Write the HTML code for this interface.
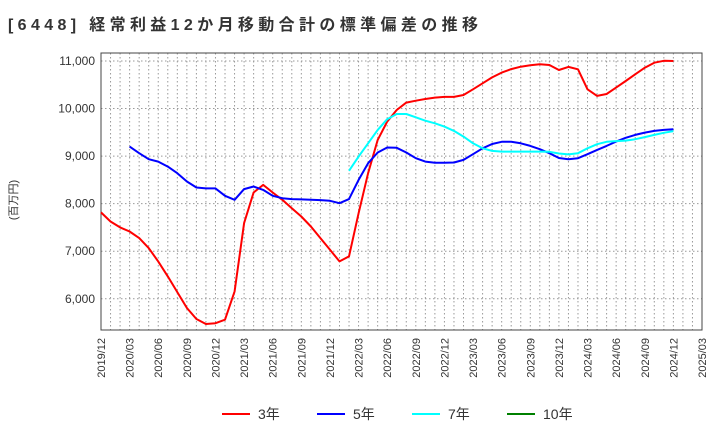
<!DOCTYPE html>
<html><head><meta charset="utf-8"><style>
body{margin:0;background:#fff;}
svg{display:block;font-family:"Liberation Sans","Noto Sans CJK JP",sans-serif;}
</style></head><body>
<svg id="chart" width="720" height="440">
<text x="8" y="30" font-size="16" font-weight="bold" fill="#333" textLength="470" lengthAdjust="spacing">[6448]  経常利益12か月移動合計の標準偏差の推移</text>
<text transform="translate(17,200) rotate(-90)" font-size="11" text-anchor="middle" fill="#333">(百万円)</text>
<g id="grid"></g><g id="axes"></g><g id="series"></g><g id="legend"></g>
</svg>
<script>
const yTicks=[6000,7000,8000,9000,10000,11000];
const startYear=2019, startMonth=12, nMonths=64;
const s3=[7815,7625,7500,7415,7275,7065,6785,6470,6140,5805,5575,5470,5485,5560,6155,7590,8235,8395,8235,8080,7905,7730,7520,7275,7030,6785,6890,7800,8640,9340,9725,9970,10125,10165,10200,10230,10245,10245,10285,10405,10530,10655,10755,10830,10880,10910,10930,10915,10810,10875,10825,10405,10265,10305,10440,10580,10720,10860,10965,11005,11000];
const s5=[null,null,null,9200,9060,8935,8885,8780,8640,8465,8340,8320,8320,8165,8080,8305,8360,8290,8165,8115,8095,8090,8080,8075,8060,8010,8095,8500,8850,9075,9180,9175,9075,8955,8885,8860,8860,8865,8920,9040,9165,9255,9300,9300,9270,9215,9145,9060,8960,8935,8955,9040,9130,9215,9305,9385,9445,9495,9530,9550,9565];
const s7=[null,null,null,null,null,null,null,null,null,null,null,null,null,null,null,null,null,null,null,null,null,null,null,null,null,null,8690,8990,9270,9550,9775,9885,9885,9815,9745,9690,9620,9530,9410,9270,9165,9110,9095,9095,9095,9094,9095,9090,9055,9035,9060,9165,9250,9300,9315,9325,9355,9400,9445,9490,9525];
const s10=[];
const seriesNames=["3年","5年","7年","10年"];
const seriesColors=["#ff0000","#0000ff","#00ffff","#008000"];
const L=101,R=702,T=53,B=330;
const x=i=>L+i*(R-L)/(nMonths-1);
const y=v=>61+(11000-v)*0.04755;
const NS="http://www.w3.org/2000/svg";
function mk(tag,attrs,parent){const e=document.createElementNS(NS,tag);for(const k in attrs)e.setAttribute(k,attrs[k]);parent.appendChild(e);return e;}
const grid=document.getElementById('grid'),axes=document.getElementById('axes'),ser=document.getElementById('series'),leg=document.getElementById('legend');
for(let i=1;i<nMonths-1;i++){const l=mk('line',{x1:x(i),x2:x(i),y1:T,y2:B,stroke:'#999','stroke-dasharray':'1.5,2.5'},grid);

}
yTicks.forEach(v=>{const l=mk('line',{x1:L,x2:R,y1:y(v),y2:y(v),stroke:'#999','stroke-dasharray':'1.5,2.5'},grid);


const t=mk('text',{x:L-6,y:y(v)+4,'font-size':12,'text-anchor':'end',fill:'#333'},axes);t.textContent=v.toLocaleString('en-US');

});
const box=mk('rect',{x:L,y:T,width:R-L,height:B-T,fill:'none',stroke:'#444','stroke-width':1},axes);


for(let i=0;i<nMonths;i+=3){const m=(startMonth-1+i)%12+1,yr=startYear+Math.floor((startMonth-1+i)/12);
const t=mk('text',{transform:`translate(${x(i)+4},338) rotate(-90)`,'font-size':11,'text-anchor':'end',fill:'#333'},axes);
t.textContent=yr+'/'+String(m).padStart(2,'0');

}
[s3,s5,s7,s10].forEach((s,k)=>{let d='';s.forEach((v,i)=>{if(v==null)return;d+=(d?'L':'M')+x(i).toFixed(1)+','+y(v).toFixed(1);});
if(!d)return;const p=mk('path',{d:d,fill:'none',stroke:seriesColors[k],'stroke-width':2,'stroke-linejoin':'round'},ser);

});
const lx=[222,317,412,507];
seriesNames.forEach((n,k)=>{const g=mk('g',{},leg);


mk('line',{x1:lx[k],x2:lx[k]+28,y1:414,y2:414,stroke:seriesColors[k],'stroke-width':2},g);
const t=mk('text',{x:lx[k]+36,y:419,'font-size':14,fill:'#333'},g);t.textContent=n;});
</script>
</body></html>
